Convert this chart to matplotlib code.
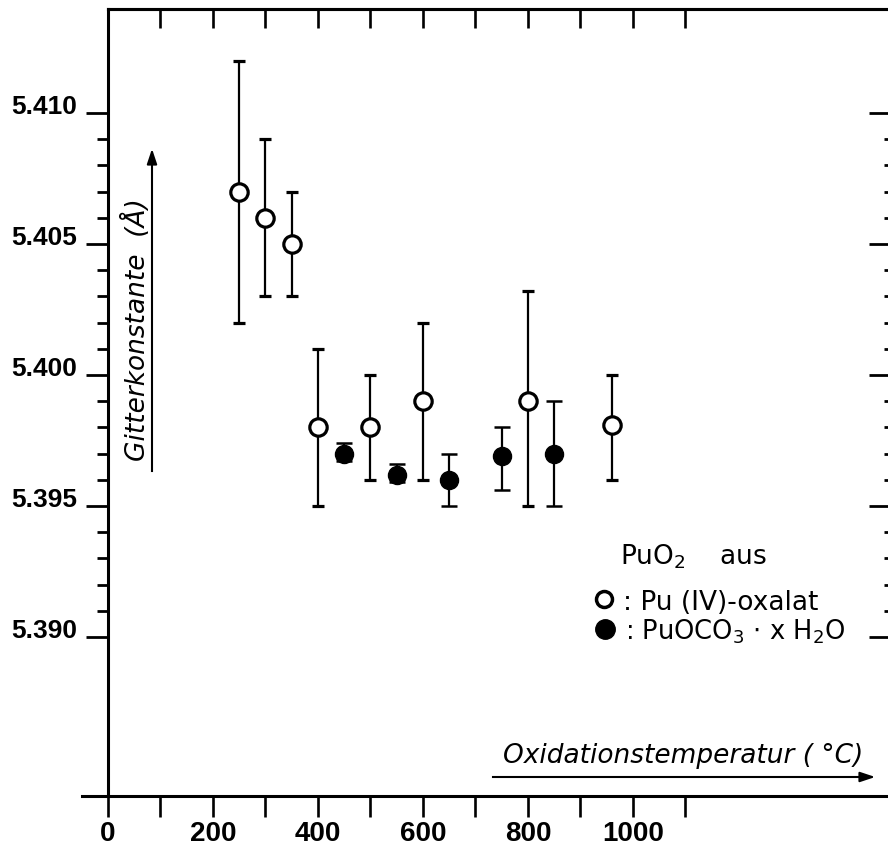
import matplotlib.pyplot as plt
from matplotlib.ticker import NullFormatter

# PuO2 from Pu(IV)-oxalate (open circles)
ox_temp = [250, 300, 350, 400, 500, 600, 800, 960]
ox_a = [5.4070, 5.4060, 5.4050, 5.3980, 5.3980, 5.3990, 5.3990, 5.3981]
ox_hi = [5.4120, 5.4090, 5.4070, 5.4010, 5.4000, 5.4020, 5.4032, 5.4000]
ox_lo = [5.4020, 5.4030, 5.4030, 5.3950, 5.3960, 5.3960, 5.3950, 5.3960]

# PuO2 from PuOCO3 * x H2O (filled circles)
co_temp = [450, 550, 650, 750, 850]
co_a = [5.3970, 5.3962, 5.3960, 5.3969, 5.3970]
co_hi = [5.3974, 5.3966, 5.3970, 5.3980, 5.3990]
co_lo = [5.3967, 5.3959, 5.3950, 5.3956, 5.3950]

x_ticks = list(range(0, 1101, 100))
x_labels = [str(v) if v % 200 == 0 and v <= 1000 else "" for v in x_ticks]
y_major = [5.390, 5.395, 5.400, 5.405, 5.410]
y_labels = ["5.390", "5.395", "5.400", "5.405", "5.410"]
y_minor = [5.390 + i * 0.001 for i in range(21) if i % 5 != 0]

W, H = 888, 854
NUM_FONT = ["Liberation Sans", "DejaVu Sans"]


def fx(px):
    return px / W


def fy(py):
    return 1 - py / H


fig = plt.figure(figsize=(W / 100, H / 100), dpi=100)
ax = fig.add_axes([fx(108), fy(797), fx(780), 787 / H])
ax.set_xlim(0, 1486)
ax.set_ylim(5.38393, 5.41397)

ox_err = [[a - lo for a, lo in zip(ox_a, ox_lo)], [hi - a for a, hi in zip(ox_a, ox_hi)]]
co_err = [[a - lo for a, lo in zip(co_a, co_lo)], [hi - a for a, hi in zip(co_a, co_hi)]]

ax.errorbar(ox_temp, ox_a, yerr=ox_err, fmt="o", color="black", mfc="white",
            mec="black", ms=12.5, mew=2.3, elinewidth=1.6, capsize=4.5,
            capthick=1.8, zorder=3)
ax.errorbar(co_temp, co_a, yerr=co_err, fmt="o", color="black", mfc="black",
            mec="black", ms=13, elinewidth=1.6, capsize=6, capthick=1.8,
            zorder=3)

# spines
for s in ["left", "bottom", "top"]:
    ax.spines[s].set_linewidth(2.2)
ax.spines["right"].set_visible(False)

# bottom axis
ax.set_xticks(x_ticks, x_labels)
ax.tick_params(axis="x", which="major", direction="out", length=15, width=1.9,
               pad=2, labelsize=20, top=False)
for t in ax.get_xticklabels():
    t.set_family(NUM_FONT)
    t.set_weight("bold")

# left axis
ax.set_yticks(y_major, y_labels)
ax.set_yticks(y_minor, minor=True)
ax.tick_params(axis="y", which="major", direction="out", length=16, width=2.0,
               pad=6, labelsize=19, right=False)
ax.tick_params(axis="y", which="minor", direction="out", length=8, width=2.0,
               right=False)
for t in ax.get_yticklabels():
    t.set_family(NUM_FONT)
    t.set_weight("bold")
    t.set_verticalalignment("baseline")

# top ticks, pointing in
secx = ax.secondary_xaxis("top")
secx.set_xticks(x_ticks[1:])
secx.xaxis.set_major_formatter(NullFormatter())
secx.tick_params(direction="in", length=14, width=1.9)
secx.spines["top"].set_linewidth(2.2)

# right ticks, pointing in
secy = ax.secondary_yaxis("right")
secy.set_yticks(y_major)
secy.set_yticks(y_minor, minor=True)
secy.yaxis.set_major_formatter(NullFormatter())
secy.tick_params(which="major", direction="in", length=13.5, width=2.0)
secy.tick_params(which="minor", direction="in", length=3, width=2.0)
secy.spines["right"].set_visible(False)

# stub of the x axis left of the y axis
ax.plot([-26 / 780, 0], [0, 0], color="black", lw=2.2,
        transform=ax.transAxes, clip_on=False)

# axis captions with arrows
fig.text(fx(503), fy(763), "Oxidationstemperatur ( °C)", fontsize=19,
         style="italic", ha="left", va="baseline")
fig.add_artist(plt.Line2D([fx(493), fx(866)], [fy(778), fy(778)], color="black", lw=1.5))
ax.annotate("", xy=(fx(878), fy(778)), xytext=(fx(860), fy(778)),
            xycoords="figure fraction", textcoords="figure fraction",
            arrowprops=dict(arrowstyle="-|>,head_length=0.9,head_width=0.3",
                            color="black", lw=1.5))

fig.text(fx(136), fy(330), "Gitterkonstante  (Å)", fontsize=19, style="italic",
         rotation=90, ha="center", va="center")
fig.add_artist(plt.Line2D([fx(152), fx(152)], [fy(472), fy(160)], color="black", lw=1.5))
ax.annotate("", xy=(fx(152), fy(147)), xytext=(fx(152), fy(166)),
            xycoords="figure fraction", textcoords="figure fraction",
            arrowprops=dict(arrowstyle="-|>,head_length=0.9,head_width=0.3",
                            color="black", lw=1.5))

# legend
fig.text(fx(620), fy(565), r"PuO$_2$    aus", fontsize=19, ha="left", va="baseline")
ax.plot([fx(604)], [fy(600)], "o", ms=11.5, mfc="white", mec="black", mew=2.5,
        transform=fig.transFigure, clip_on=False)
fig.text(fx(623), fy(610), ": Pu (IV)-oxalat", fontsize=19, ha="left", va="baseline")
ax.plot([fx(605)], [fy(630)], "o", ms=14, mfc="black", mec="black",
        transform=fig.transFigure, clip_on=False)
fig.text(fx(625), fy(640), r": PuOCO$_3$ $\cdot$ x H$_2$O", fontsize=18.5, ha="left",
         va="baseline")

fig.savefig("out.png", dpi=100, facecolor="white")
